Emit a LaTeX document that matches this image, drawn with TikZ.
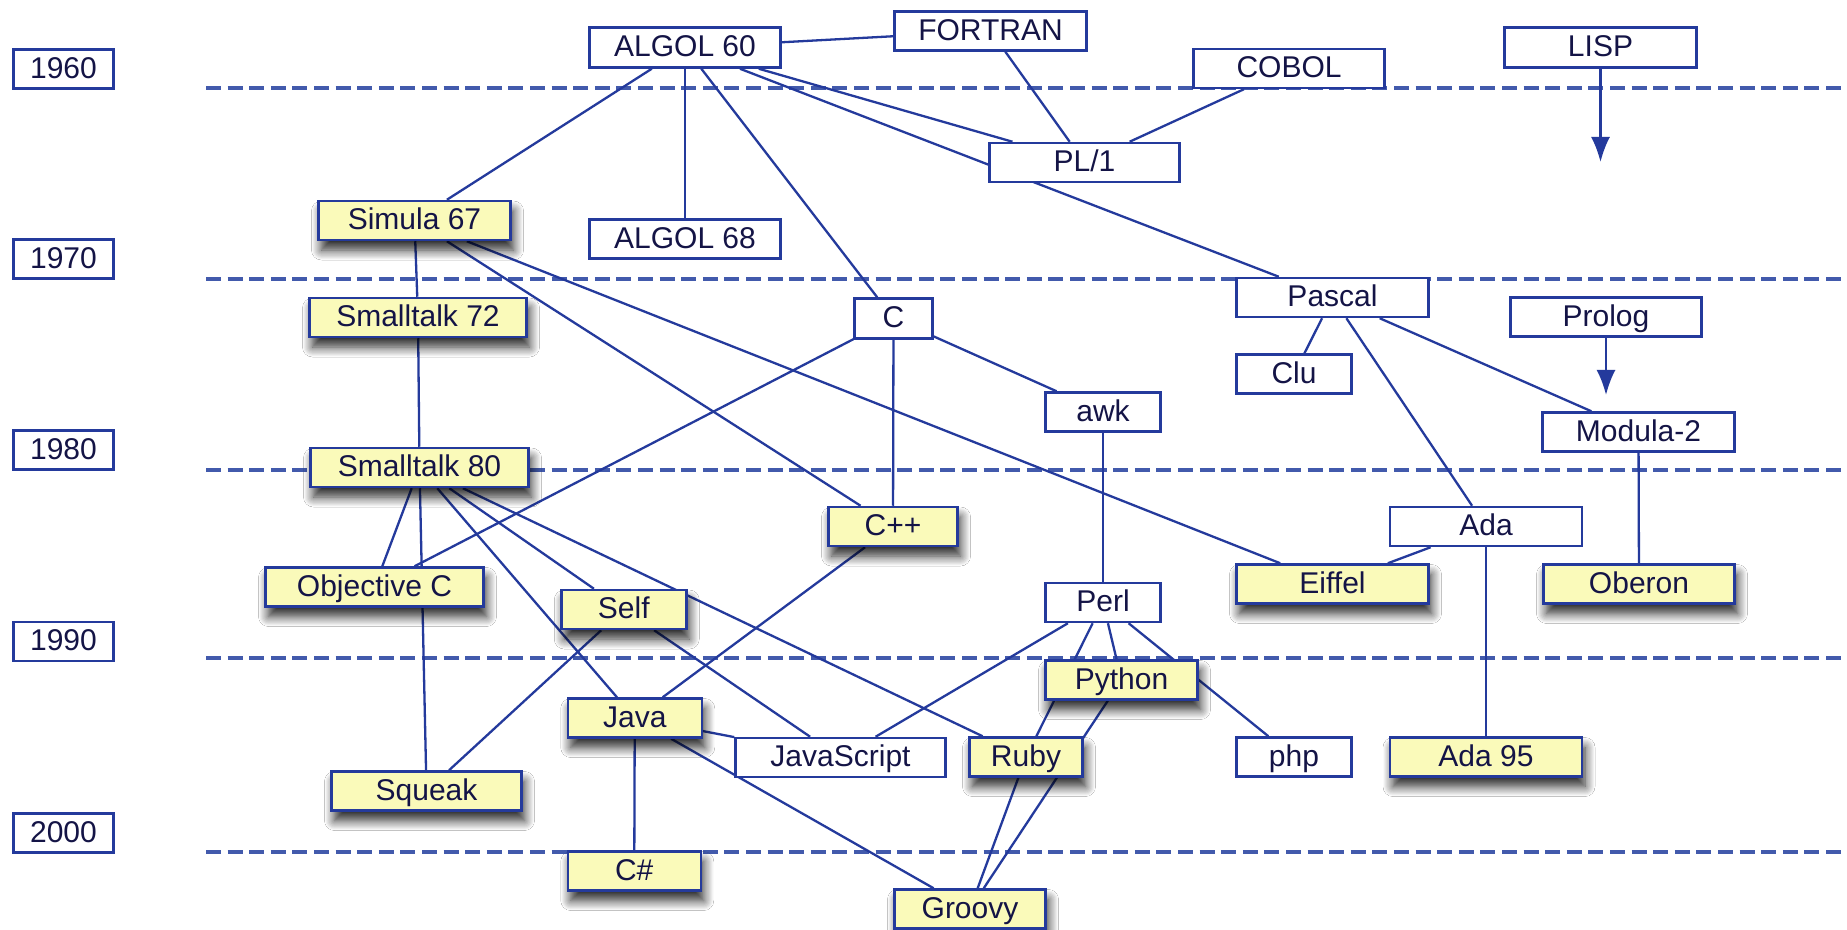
\documentclass[tikz,border=0pt]{standalone}
\usepackage{fontspec}
\setmainfont{Liberation Sans}
\usetikzlibrary{arrows.meta,shadows.blur}
\definecolor{lineblue}{RGB}{36,58,156}
\definecolor{dashblue}{RGB}{66,90,172}
\definecolor{txt}{RGB}{20,20,70}
\definecolor{yel}{RGB}{250,250,186}
\pgfdeclarelayer{background}
\pgfsetlayers{background,main}
\tikzset{
  lang/.style={draw=lineblue, line width=1.25pt, fill=white, text=txt, inner sep=0pt,
    font=\fontsize{15}{18}\selectfont, text height=10.8pt, text depth=1.6pt,
    minimum height=19.5pt},
  yellang/.style={lang, fill=yel, blur shadow={shadow xshift=1.5pt, shadow yshift=-5pt,
    shadow blur radius=5pt, shadow blur steps=10, shadow opacity=85}},
  yearbox/.style={lang, minimum width=50pt, minimum height=19.5pt},
  conn/.style={draw=lineblue, line width=1.15pt},
  era/.style={draw=dashblue, line width=1.6pt, dash pattern=on 7.5pt off 3.3pt},
  arr/.style={conn, -{Latex[length=12.5pt,width=9.5pt]}}
}
\begin{document}
\begin{tikzpicture}[x=0.5pt, y=-0.5pt]
\useasboundingbox (0,0) rectangle (1847,930);

% year labels
\node[yearbox] (y1960) at (63.5,69) {1960};
\node[yearbox] (y1970) at (63.5,259) {1970};
\node[yearbox] (y1980) at (63.5,450) {1980};
\node[yearbox] (y1990) at (63.5,641.5) {1990};
\node[yearbox] (y2000) at (63.5,833) {2000};

% white nodes
\node[lang, minimum width=95.5pt, minimum height=20pt] (algol60) at (685,47.5) {ALGOL 60};
\node[lang, minimum width=96pt] (fortran) at (990.5,31) {FORTRAN};
\node[lang, minimum width=95.5pt] (cobol) at (1289,68.5) {COBOL};
\node[lang, minimum width=96pt, minimum height=20pt] (lisp) at (1600.5,47.5) {LISP};
\node[lang, minimum width=95pt] (pl1) at (1084.5,162.5) {PL/1};
\node[lang, minimum width=95.5pt] (algol68) at (685,239) {ALGOL 68};
\node[lang, minimum width=39pt, minimum height=20pt] (c) at (893.5,318.5) {C};
\node[lang, minimum width=96pt] (pascal) at (1332.5,297.5) {Pascal};
\node[lang, minimum width=95.5pt] (prolog) at (1606,317) {Prolog};
\node[lang, minimum width=57.5pt] (clu) at (1294,374) {Clu};
\node[lang, minimum width=57.5pt] (awk) at (1103,412) {awk};
\node[lang, minimum width=96pt] (modula) at (1638.5,432) {Modula-2};
\node[lang, minimum width=96pt] (ada) at (1486,526.5) {Ada};
\node[lang, minimum width=57.5pt] (perl) at (1103,602.5) {Perl};
\node[lang, minimum width=105pt] (js) at (840.5,757.5) {JavaScript};
\node[lang, minimum width=57.5pt] (php) at (1294,757) {php};

% yellow nodes
\node[yellang, minimum width=96pt] (simula) at (414.5,220.5) {Simula 67};
\node[yellang, minimum width=108.5pt] (st72) at (418,317.5) {Smalltalk 72};
\node[yellang, minimum width=109pt] (st80) at (419.5,467.5) {Smalltalk 80};
\node[yellang, minimum width=64.5pt] (cpp) at (893,526.5) {C++};
\node[yellang, minimum width=109pt] (objc) at (374.5,587) {Objective C};
\node[yellang, minimum width=96pt] (eiffel) at (1332.5,584) {Eiffel};
\node[yellang, minimum width=95.5pt] (oberon) at (1639,584) {Oberon};
\node[yellang, minimum width=62.5pt] (self) at (623.75,609.5) {Self};
\node[yellang, minimum width=76pt] (python) at (1121.5,680) {Python};
\node[yellang, minimum width=67pt] (java) at (634.75,718) {Java};
\node[yellang, minimum width=56.5pt] (ruby) at (1026,757) {Ruby};
\node[yellang, minimum width=96pt] (ada95) at (1486,757) {Ada 95};
\node[yellang, minimum width=95pt] (squeak) at (426.5,791) {Squeak};
\node[yellang, minimum width=66.5pt] (csharp) at (634.25,871) {C\#};
\node[yellang, minimum width=75.5pt] (groovy) at (970,909) {Groovy};

\coordinate (lispend) at (1600.5,162);
\coordinate (prologend) at (1606,395);

\begin{pgfonlayer}{background}
\fill[white] (0,0) rectangle (1847,930);
% era lines
\foreach \yy in {88,279,470,658,852}
  \draw[era] (206,\yy) -- (1847,\yy);
% connectors
\draw[conn] (algol60) -- (fortran);
\draw[conn] (algol60) -- (simula);
\draw[conn] (algol60) -- (algol68);
\draw[conn] (algol60) -- (c);
\draw[conn] (algol60) -- (pl1);
\draw[conn] (algol60) -- (pascal);
\draw[conn] (fortran) -- (pl1);
\draw[conn] (cobol) -- (pl1);
\draw[conn] (simula) -- (st72);
\draw[conn] (simula) -- (cpp);
\draw[conn] (simula) -- (eiffel);
\draw[conn] (st72) -- (st80);
\draw[conn] (c) -- (cpp);
\draw[conn] (c) -- (objc);
\draw[conn] (c) -- (awk);
\draw[conn] (awk) -- (perl);
\draw[conn] (pascal) -- (clu);
\draw[conn] (pascal) -- (ada);
\draw[conn] (pascal) -- (modula);
\draw[conn] (modula) -- (oberon);
\draw[conn] (ada) -- (eiffel);
\draw[conn] (ada) -- (ada95);
\draw[conn] (st80) -- (objc);
\draw[conn] (st80) -- (squeak);
\draw[conn] (st80) -- (java);
\draw[conn] (st80) -- (self);
\draw[conn] (st80) -- (ruby);
\draw[conn] (self) -- (squeak);
\draw[conn] (self) -- (js);
\draw[conn] (cpp) -- (java);
\draw[conn] (java) -- (js);
\draw[conn] (java) -- (csharp);
\draw[conn] (java) -- (groovy);
\draw[conn] (perl) -- (js);
\draw[conn] (perl) -- (ruby);
\draw[conn] (perl) -- (python);
\draw[conn] (perl) -- (php);
\draw[conn] (python) -- (groovy);
\draw[conn] (ruby) -- (groovy);
\end{pgfonlayer}

\draw[arr] (lisp) -- (lispend);
\draw[arr] (prolog) -- (prologend);
\end{tikzpicture}
\end{document}
